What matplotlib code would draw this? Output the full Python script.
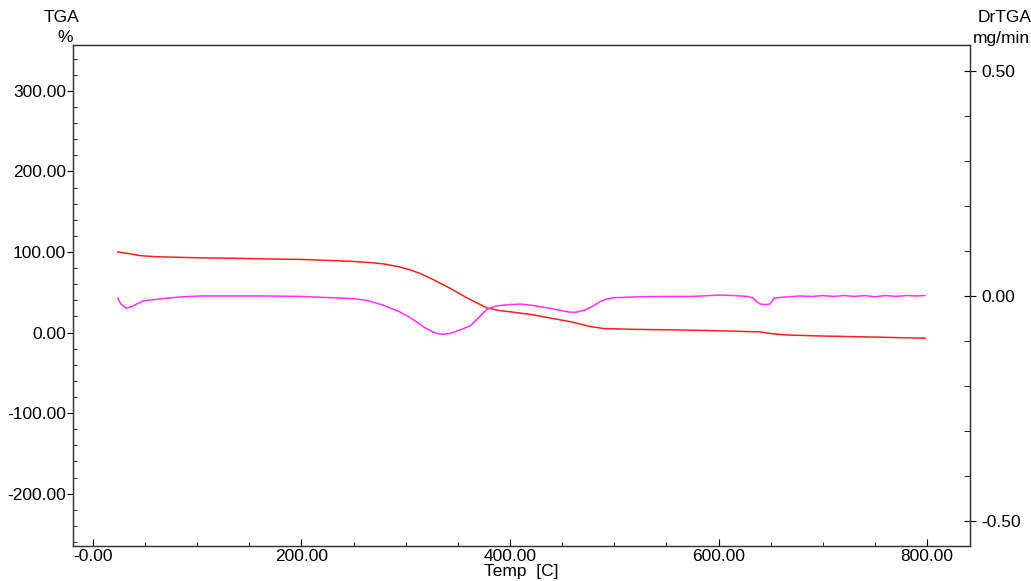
"""
plot.py - TGA / DrTGA thermogram: mass (%) on the left axis and its
derivative (mg/min) on the right axis versus temperature.
"""

import matplotlib
matplotlib.use("Agg")
import matplotlib.pyplot as plt
from matplotlib.ticker import MultipleLocator

plt.rcParams["font.family"] = ["Liberation Sans", "DejaVu Sans"]

# TGA curve (%)
tga_temp = [24, 35, 45, 60, 80, 103, 130, 167, 200, 230, 250, 269, 280, 294,
            305, 314, 326, 339, 350, 359, 368, 378, 390, 400, 420, 438, 458,
            477, 490, 520, 560, 600, 614, 630, 640, 652, 665, 700, 750, 798]
tga_pct = [100.0, 98.0, 95.6, 94.2, 93.5, 92.8, 92.4, 91.5, 90.8, 89.4, 88.3,
           86.6, 85.0, 81.6, 77.5, 73.3, 66.0, 57.5, 49.5, 43.0, 37.0, 30.6,
           27.3, 25.8, 22.5, 18.2, 13.5, 7.5, 5.0, 4.0, 3.3, 2.3, 1.8, 1.2,
           0.8, -1.5, -3.0, -4.3, -5.6, -7.0]

# DrTGA curve (mg/min)
dtg_temp = [24, 27, 32, 37, 42, 48, 55, 71, 85, 103, 130, 167, 200, 230, 250,
            263, 278, 294, 302, 310, 318, 326, 331, 336, 343, 349, 356, 362,
            370, 378, 387, 400, 410, 422, 429, 438, 450, 458, 464, 472, 479,
            486, 492, 499, 520, 550, 575, 601, 615, 627, 633, 636, 640, 645,
            649, 651, 653, 660, 678, 690, 700, 710, 720, 730, 740, 750, 760,
            770, 780, 790, 798]
dtg_val = [-0.005, -0.018, -0.027, -0.024, -0.018, -0.011, -0.009, -0.005,
           -0.002, 0.000, 0.000, 0.000, -0.001, -0.004, -0.006, -0.010,
           -0.020, -0.035, -0.045, -0.057, -0.070, -0.080, -0.084, -0.085,
           -0.083, -0.078, -0.072, -0.066, -0.048, -0.029, -0.022, -0.019,
           -0.018, -0.021, -0.024, -0.027, -0.033, -0.036, -0.036, -0.031,
           -0.023, -0.013, -0.007, -0.004, -0.002, -0.001, -0.001, 0.002,
           0.001, -0.001, -0.004, -0.012, -0.018, -0.019, -0.018, -0.012,
           -0.005, -0.003, 0.000, -0.001, 0.001, -0.001, 0.001, -0.001,
           0.001, -0.002, 0.001, -0.001, 0.001, 0.000, 0.001]

x_ticks = [0, 200, 400, 600, 800]
x_labels = ["-0.00", "200.00", "400.00", "600.00", "800.00"]
left_ticks = [-200, -100, 0, 100, 200, 300]
left_labels = ["-200.00", "-100.00", "0.00", "100.00", "200.00", "300.00"]
right_ticks = [-0.5, 0.0, 0.5]
right_labels = ["-0.50", "0.00", "0.50"]

TICK_FS = 12.5

fig = plt.figure(figsize=(10.31, 5.81), dpi=100)
ax = fig.add_axes([0.0708, 0.0602, 0.8700, 0.8623])
ax2 = ax.twinx()

ax.plot(tga_temp, tga_pct, color="#ff2020", linewidth=1.1)
ax2.plot(dtg_temp, dtg_val, color="#ff33ff", linewidth=1.1)

ax.set_xlim(-19, 841)
ax.set_ylim(-265, 357)
ax2.set_ylim(-0.556, 0.558)

ax.set_xticks(x_ticks)
ax.set_xticklabels(x_labels, fontsize=TICK_FS)
ax.xaxis.set_minor_locator(MultipleLocator(50))
ax.tick_params(axis="x", which="major", direction="in", length=5, pad=2)
ax.tick_params(axis="x", which="minor", direction="in", length=3)

ax.set_yticks(left_ticks)
ax.set_yticklabels(left_labels, fontsize=TICK_FS)
ax.yaxis.set_minor_locator(MultipleLocator(20))
ax.tick_params(axis="y", which="major", direction="out", length=4, pad=1)
ax.tick_params(axis="y", which="minor", direction="in", length=3)

ax2.set_yticks(right_ticks)
ax2.set_yticklabels(right_labels, fontsize=TICK_FS)
ax2.yaxis.set_minor_locator(MultipleLocator(0.1))
ax2.tick_params(axis="y", which="major", direction="inout", length=8, pad=4)
ax2.tick_params(axis="y", which="minor", direction="in", length=4)

for a in (ax, ax2):
    for s in a.spines.values():
        s.set_linewidth(0.9)
        s.set_color("#333333")

ax.set_xlabel("Temp  [C]", fontsize=TICK_FS, labelpad=0)

fig.text(62 / 1031, 1 - 18 / 581, "TGA", fontsize=TICK_FS, ha="center", va="center")
fig.text(65 / 1031, 1 - 37 / 581, "%", fontsize=TICK_FS, ha="center", va="center")
fig.text(1005 / 1031, 1 - 18 / 581, "DrTGA", fontsize=TICK_FS, ha="center", va="center")
fig.text(1001 / 1031, 1 - 38 / 581, "mg/min", fontsize=TICK_FS, ha="center", va="center")

fig.savefig("out.png", dpi=100)
